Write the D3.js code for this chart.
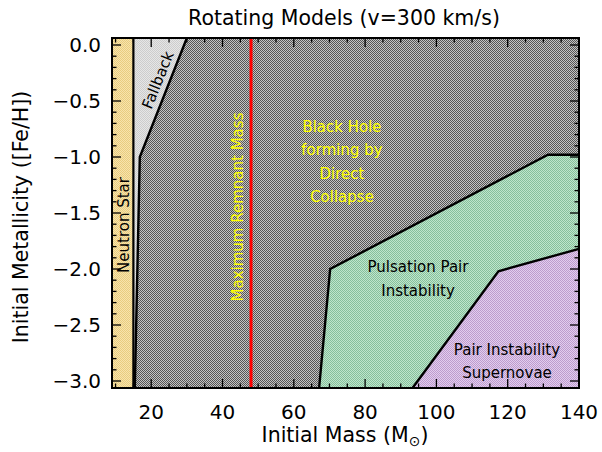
<!DOCTYPE html>
<html>
<head>
<meta charset="utf-8">
<script src="https://cdn.jsdelivr.net/npm/d3@7"></script>
<style>
  html, body { margin: 0; padding: 0; background: #fff; }
  text { font-family: "DejaVu Sans", "Liberation Sans", sans-serif; }
</style>
</head>
<body>
<svg id="chart" width="602" height="452"></svg>
<script>
// ---- data ----
const title = "Rotating Models (v=300 km/s)";
const xDomain = [9, 140];
const yDomain = [-3.0625, 0.0625];
const xTicks = [20, 40, 60, 80, 100, 120, 140];
const yTicks = [0.0, -0.5, -1.0, -1.5, -2.0, -2.5, -3.0];
const yTickLabels = ["0.0", "\u22120.5", "\u22121.0", "\u22121.5", "\u22122.0", "\u22122.5", "\u22123.0"];
const neutronStarMax = 15;          // mass limit of neutron star region
const maxRemnantMass = 48;          // red vertical line
const fallbackBoundary = [[30, 0.0625], [16.8, -1.0], [15.4, -3.0625]];
const ppiBoundary = [[67.1, -3.0625], [70.2, -2.0], [131.3, -0.98], [140, -0.98]];
const pisnBoundary = [[93.3, -3.0625], [117.4, -2.02], [140, -1.82]];

// ---- layout ----
const W = 602, H = 452;
const m = {left: 112, right: 23, top: 38, bottom: 64};
const svg = d3.select("#chart");
const x = d3.scaleLinear().domain(xDomain).range([m.left, W - m.right]);
const y = d3.scaleLinear().domain(yDomain).range([H - m.bottom, m.top]);

// ---- dither patterns ----
const defs = svg.append("defs");
function checker(id, light, dark) {
  const p = defs.append("pattern").attr("id", id).attr("patternUnits", "userSpaceOnUse")
    .attr("width", 2).attr("height", 2);
  p.append("rect").attr("width", 2).attr("height", 2).attr("fill", light);
  p.append("rect").attr("width", 1).attr("height", 1).attr("fill", dark);
  p.append("rect").attr("x", 1).attr("y", 1).attr("width", 1).attr("height", 1).attr("fill", dark);
}
checker("pBH", "#c4c4c4", "#555555");
checker("pNS", "#f8e4ac", "#e8cc80");
checker("pFB", "#e6e6e6", "#cccccc");
checker("pPPI", "#bfe6cc", "#86bf9c");
checker("pPISN", "#e2cdee", "#bd9ccd");

const line = d3.line().x(d => x(d[0])).y(d => y(d[1]));
const [x0, x1] = xDomain, [y0, y1] = yDomain;

// black hole (background)
svg.append("path").attr("d", line([[neutronStarMax, y0], [neutronStarMax, y1], [x1, y1], [x1, y0]]) + "Z")
  .attr("fill", "url(#pBH)");
// neutron star
svg.append("path").attr("d", line([[x0, y0], [x0, y1], [neutronStarMax, y1], [neutronStarMax, y0]]) + "Z")
  .attr("fill", "url(#pNS)");
// fallback
svg.append("path").attr("d", line([[neutronStarMax, y1], ...fallbackBoundary, [neutronStarMax, y0]]) + "Z")
  .attr("fill", "url(#pFB)");
// pulsation pair instability
svg.append("path").attr("d", line([...ppiBoundary, [x1, y0]]) + "Z").attr("fill", "url(#pPPI)");
// pair instability SN
svg.append("path").attr("d", line([...pisnBoundary, [x1, y0]]) + "Z").attr("fill", "url(#pPISN)");

// boundaries
svg.append("path").attr("d", line([[neutronStarMax, y0], [neutronStarMax, y1]]))
  .attr("stroke", "#000").attr("stroke-width", 2.2).attr("fill", "none");
[fallbackBoundary, ppiBoundary, pisnBoundary].forEach(b => {
  svg.append("path").attr("d", line(b)).attr("stroke", "#000").attr("stroke-width", 2.4)
    .attr("fill", "none").attr("stroke-linejoin", "miter");
});
// red max remnant line
svg.append("line").attr("x1", x(maxRemnantMass)).attr("x2", x(maxRemnantMass))
  .attr("y1", y(y0)).attr("y2", y(y1)).attr("stroke", "#ff0000").attr("stroke-width", 3);

// ---- axes (IDL style: inward ticks on all sides) ----
const xMinor = d3.range(10, 141, 5);
const yMinor = d3.range(-30, 1, 1).map(v => v / 10);
const ax = svg.append("g").attr("stroke", "#000").attr("stroke-width", 1.3);
xMinor.forEach(v => {
  const len = xTicks.includes(v) ? 9 : 4.5;
  ax.append("line").attr("x1", x(v)).attr("x2", x(v)).attr("y1", y(y0)).attr("y2", y(y0) - len);
  ax.append("line").attr("x1", x(v)).attr("x2", x(v)).attr("y1", y(y1)).attr("y2", y(y1) + len);
});
yMinor.forEach(v => {
  const major = yTicks.some(t => Math.abs(t - v) < 1e-6);
  const len = major ? 9 : 4.5;
  ax.append("line").attr("x1", x(x0)).attr("x2", x(x0) + len).attr("y1", y(v)).attr("y2", y(v));
  ax.append("line").attr("x1", x(x1)).attr("x2", x(x1) - len).attr("y1", y(v)).attr("y2", y(v));
});
svg.append("rect").attr("x", x(x0)).attr("y", y(y1)).attr("width", x(x1) - x(x0)).attr("height", y(y0) - y(y1))
  .attr("fill", "none").attr("stroke", "#000").attr("stroke-width", 2);

// tick labels
svg.append("g").selectAll("text").data(xTicks).join("text")
  .attr("x", d => x(d)).attr("y", y(y0) + 31).attr("text-anchor", "middle")
  .attr("font-size", 20).attr("fill", "#000").text(d => d);
svg.append("g").selectAll("text").data(yTicks).join("text")
  .attr("x", m.left - 11).attr("y", d => y(d) + 7).attr("text-anchor", "end")
  .attr("font-size", 20).attr("fill", "#000").text((d, i) => yTickLabels[i]);

// titles
svg.append("text").attr("x", 344).attr("y", 25).attr("text-anchor", "middle")
  .attr("font-size", 20.5).text(title);
const xl = svg.append("text").attr("x", 345).attr("y", 442).attr("text-anchor", "middle").attr("font-size", 20.5);
xl.append("tspan").text("Initial Mass (M");
xl.append("tspan").attr("font-size", 14).attr("dy", 4).text("\u2299");
xl.append("tspan").attr("dy", -4).text(")");
svg.append("text").attr("transform", "translate(28,217) rotate(-90)").attr("text-anchor", "middle")
  .attr("font-size", 20.5).text("Initial Metallicity ([Fe/H])");

// region labels
function label(txt, cx, cy, rot, color, size) {
  svg.append("text").attr("transform", `translate(${cx},${cy}) rotate(${rot})`)
    .attr("text-anchor", "middle").attr("dominant-baseline", "central")
    .attr("font-size", size).attr("fill", color).text(txt);
}
label("Neutron Star", 124, 225, -90, "#000", 15);
label("Fallback", 158, 80, -68, "#000", 15);
label("Maximum Remnant Mass", 238, 207, -90, "#ffff00", 15);
["Black Hole", "forming by", "Direct", "Collapse"].forEach((t, i) =>
  label(t, 342, 127 + i * 23.3, 0, "#ffff00", 15));
["Pulsation Pair", "Instability"].forEach((t, i) => label(t, 418, 267 + i * 24, 0, "#000", 15));
["Pair Instability", "Supernovae"].forEach((t, i) => label(t, 507, 350 + i * 23, 0, "#000", 15));
</script>
</body>
</html>
